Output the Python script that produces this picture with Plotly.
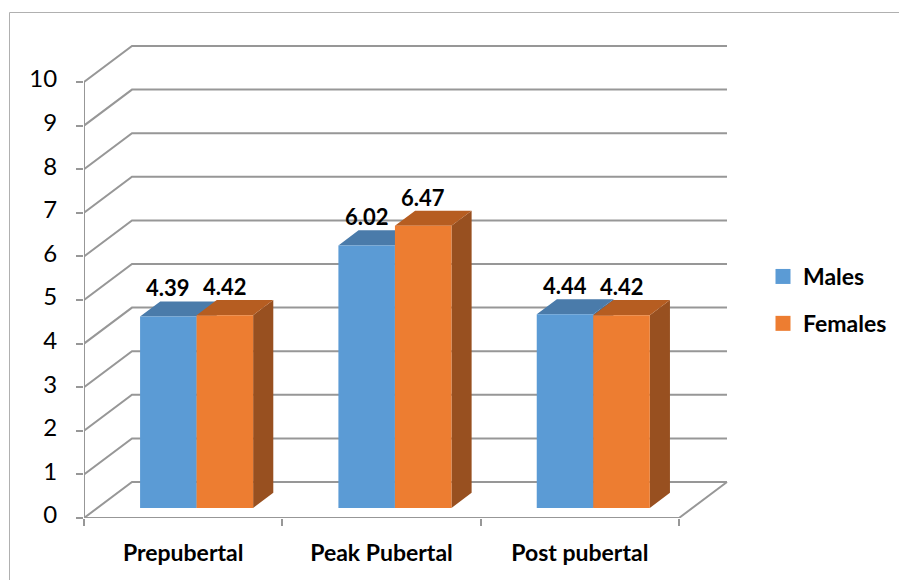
import plotly.graph_objects as go

# ---- data ----
categories = ["Prepubertal", "Peak Pubertal", "Post pubertal"]
males = [4.39, 6.02, 4.44]
females = [4.42, 6.47, 4.42]
series_names = ["Males", "Females"]
y_ticks = list(range(0, 11))

# ---- canvas / projection setup ----
W, H = 899, 580
L, R, T, B = 84, 159, 30, 62
PW, PH = W - L - R, H - T - B
PX_PER_CAT = 198.33          # pixels per category along the front edge
PX_PER_UNIT = 43.6           # pixels per value unit
X_MAX = PW / PX_PER_CAT
Y_MAX = PH / PX_PER_UNIT
DX = 48 / PX_PER_CAT         # oblique depth offset (x, in category units)
DY = 36 / PX_PER_UNIT        # oblique depth offset (y, in value units)
N = len(categories)

GRID = "#979797"
BAR_W = 0.285                # bar width as a fraction of a category
BAR_X0 = 0.215               # first bar offset inside a category
D0, D1 = 0.28, 0.70          # bar depth span (fraction of floor depth)

faces = {
    "Males": {"front": "#5B9BD5", "top": "#4A7BAA", "side": "#3F6A94"},
    "Females": {"front": "#ED7D31", "top": "#B65D21", "side": "#985020"},
}


def proj(x, v, d):
    return x + d * DX, v + d * DY


fig = go.Figure()

# walls: left-side diagonals and back-wall gridlines
gx, gy = [], []
for v in y_ticks:
    for (x, d) in [(0, 0), (0, 1), (N, 1)]:
        px, py = proj(x, v, d)
        gx.append(px)
        gy.append(py)
    gx.append(None)
    gy.append(None)
# floor front edge and right edge
for (x, v, d) in [(0, 0, 0), (N, 0, 0), (N, 0, 1)]:
    px, py = proj(x, v, d)
    gx.append(px)
    gy.append(py)
gx.append(None)
gy.append(None)
# vertical value axis on the front plane
gx += [0, 0, None]
gy += [0, y_ticks[-1], None]
fig.add_trace(go.Scatter(x=gx, y=gy, mode="lines", line=dict(color=GRID, width=2),
                         hoverinfo="skip", showlegend=False))

# bars (side, top, front for each series so that later bars overlap earlier ones)
for s, (name, vals) in enumerate(zip(series_names, [males, females])):
    polys = {"side": ([], []), "top": ([], []), "front": ([], [])}
    for i, v in enumerate(vals):
        x0 = i + BAR_X0 + s * BAR_W
        x1 = x0 + BAR_W
        shapes = {
            "side": [(x1, 0, D0), (x1, 0, D1), (x1, v, D1), (x1, v, D0)],
            "top": [(x0, v, D0), (x1, v, D0), (x1, v, D1), (x0, v, D1)],
            "front": [(x0, 0, D0), (x1, 0, D0), (x1, v, D0), (x0, v, D0)],
        }
        for key, pts in shapes.items():
            xs, ys = polys[key]
            for (x, vv, d) in pts + [pts[0]]:
                px, py = proj(x, vv, d)
                xs.append(px)
                ys.append(py)
            xs.append(None)
            ys.append(None)
    for key in ["side", "top", "front"]:
        xs, ys = polys[key]
        fig.add_trace(go.Scatter(x=xs, y=ys, mode="lines", fill="toself",
                                 fillcolor=faces[name][key],
                                 line=dict(width=0, color=faces[name][key]),
                                 hoverinfo="skip", showlegend=False))
    # value labels above each bar
    for i, v in enumerate(vals):
        xc = i + BAR_X0 + s * BAR_W + BAR_W / 2 + D0 * DX
        fig.add_annotation(x=xc, y=v + D1 * DY, text=f"<b>{v:.2f}</b>", showarrow=False,
                           yanchor="bottom", xanchor="center", yshift=-2,
                           font=dict(family="Lato", size=22, color="black"))
    # legend entry
    fig.add_trace(go.Scatter(x=[None], y=[None], mode="markers", name=name,
                             legendgroup=name,
                             marker=dict(symbol="square", size=15, color=faces[name]["front"]),
                             hoverinfo="skip"))

# chart frame
fig.add_shape(type="rect", xref="paper", yref="paper",
              x0=(9.5 - L) / PW, x1=(W + 10 - L) / PW,
              y0=(H - B - (H + 10)) / PH, y1=(H - B - 12.5) / PH,
              line=dict(color="#b0b0b0", width=1), fillcolor="rgba(0,0,0,0)", layer="below")

fig.update_layout(
    width=W, height=H,
    margin=dict(l=L, r=R, t=T, b=B, autoexpand=False),
    paper_bgcolor="white", plot_bgcolor="white",
    font=dict(family="Lato", color="black"),
    showlegend=True,
    legend=dict(x=(763 - L) / PW, y=(H - B - 255) / PH, xanchor="left", yanchor="top",
                font=dict(family="Lato", size=23, color="black", weight="bold"),
                tracegroupgap=14, bgcolor="rgba(0,0,0,0)", itemsizing="trace"),
    xaxis=dict(range=[0, X_MAX], showgrid=False, zeroline=False, showline=False,
               automargin=False, fixedrange=True,
               tickmode="array", tickvals=[i + 0.5 for i in range(N)],
               ticktext=[f"<b>{c}</b>" for c in categories], ticks="",
               tickfont=dict(family="Lato", size=23, color="black"),
               ticklabelstandoff=19,
               minor=dict(tickmode="array", tickvals=list(range(N + 1)), ticks="outside",
                          ticklen=7, tickcolor=GRID, tickwidth=2, showgrid=False)),
    yaxis=dict(range=[0, Y_MAX], showgrid=False, zeroline=False, showline=False,
               automargin=False, fixedrange=True,
               tickmode="array", tickvals=y_ticks, ticks="outside", ticklen=7,
               tickcolor=GRID, tickwidth=2,
               tickfont=dict(family="Lato", size=24, color="black"),
               ticklabelstandoff=14, ticklabelshift=-3),
)

fig.write_html("out.html")
